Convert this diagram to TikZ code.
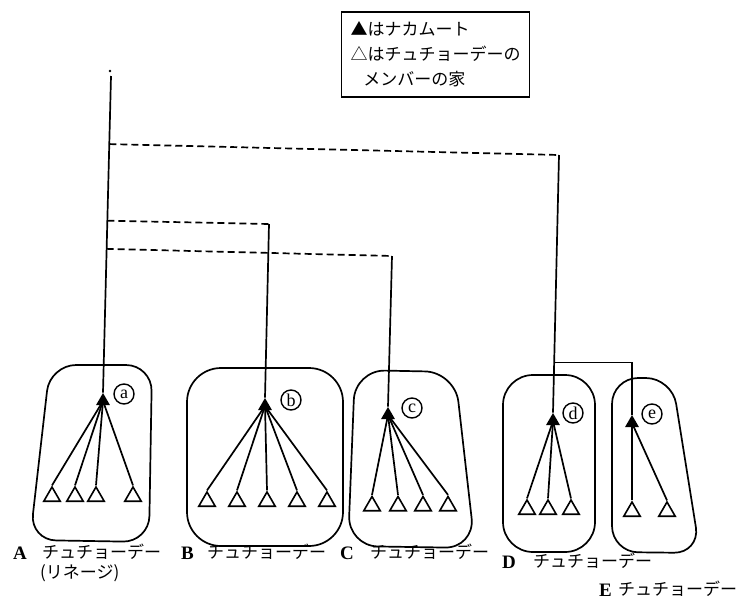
\documentclass[tikz,border=0pt]{standalone}
\usepackage{fontspec}
\setmainfont{Liberation Serif}
\newfontfamily\jp{Noto Sans CJK JP}
\usetikzlibrary{shapes.geometric,calc,positioning}

\tikzset{
  kin/.style={line width=1.7pt, rounded corners=26pt},
  head/.style={regular polygon, regular polygon sides=3, fill=black, inner sep=0pt, minimum size=16pt},
  house/.style={regular polygon, regular polygon sides=3, draw, line width=1.6pt, inner sep=0pt, minimum size=19pt},
  tag/.style={circle, draw, line width=1.4pt, inner sep=0pt, minimum size=20pt, font=\fontsize{18}{18}\selectfont},
  lbl/.style={font=\jp\fontsize{17}{20}\selectfont, inner sep=0pt, anchor=base west},
  ltr/.style={font=\fontsize{19}{20}\selectfont\bfseries, inner sep=0pt, anchor=base west},
  link/.style={line width=1.7pt},
  tie/.style={line width=1.7pt, dash pattern=on 7pt off 4pt},
}

\begin{document}
\begin{tikzpicture}[x=1pt,y=-1pt]
  \useasboundingbox (0,0) rectangle (747,603);

  % legend
  \node[draw, line width=1.7pt, align=left, inner xsep=9pt, inner ysep=10pt,
        font=\jp\fontsize{17}{25}\selectfont] (legend) at (435.5,54.5)
    {▲はナカムート\\△はチュチョーデーの\\\hspace{0.75em}メンバーの家};

  % lineage boxes
  \draw[kin] (50,365) -- (152,365) -- (149,542) -- (30,540) -- cycle;
  \draw[kin, rounded corners=34pt] (187,368) -- (343,368) -- (343,546) -- (187,546) -- cycle;
  \draw[kin, rounded corners=30pt] (355,370) -- (455,372) -- (475,548) -- (348,546) -- cycle;
  \draw[kin, rounded corners=30pt] (503,375) -- (595,375) -- (595,552) -- (503,552) -- cycle;
  \draw[kin] (612,378) -- (672,378) -- (700,553) -- (612,552) -- cycle;

  % nakamuuto and tags
  \node[head] (hA) at (103,401) {};
  \node[head] (hB) at (265,406) {};
  \node[head] (hC) at (388,415) {};
  \node[head] (hD) at (553,421) {};
  \node[head] (hE) at (632,423) {};
  \node[tag] (ta) at (124,394) {a};
  \node[tag] (tb) at (291,400) {b};
  \node[tag] (tc) at (412,408) {c};
  \node[tag] (td) at (573,413) {d};
  \node[tag] (te) at (652,414) {e};

  % member houses
  \foreach \x [count=\i] in {52,75,96,133} {
    \node[house] (mA\i) at (\x,496.5) {};
    \draw[link] (hA.center) -- (mA\i.corner 1);
  }
  \foreach \x [count=\i] in {207,237,267,297,327} {
    \node[house] (mB\i) at (\x,501.5) {};
    \draw[link] (hB.center) -- (mB\i.corner 1);
  }
  \foreach \x [count=\i] in {372,398,423,448} {
    \node[house] (mC\i) at (\x,506) {};
    \draw[link] (hC.center) -- (mC\i.corner 1);
  }
  \foreach \x [count=\i] in {527,548,571} {
    \node[house] (mD\i) at (\x,509.5) {};
    \draw[link] (hD.center) -- (mD\i.corner 1);
  }
  \foreach \x [count=\i] in {632,667} {
    \node[house] (mE\i) at (\x,511.5) {};
    \draw[link] (hE.center) -- (mE\i.corner 1);
  }

  % main line and branches
  \node[circle, fill, inner sep=1pt] (dot) at (110,71) {};
  \coordinate (top) at (111,76);
  \draw[link] (top) -- (hA.corner 1);
  \coordinate (brD) at ($(top)!0.215!(hA.corner 1)$);
  \coordinate (brB) at ($(top)!0.457!(hA.corner 1)$);
  \coordinate (brC) at ($(top)!0.546!(hA.corner 1)$);
  \coordinate (cD) at (559,155);
  \coordinate (cB) at (269,224);
  \coordinate (cC) at (392,256);
  \draw[tie] (brD) -- (cD);
  \draw[tie] (brB) -- (cB);
  \draw[tie] (brC) -- (cC);
  \draw[link] (cD) -- (hD.corner 1);
  \draw[link] (cB) -- (hB.corner 1);
  \draw[link] (cC) -- (hC.corner 1);
  \coordinate (jD) at ($(cD)!0.806!(hD.corner 1)$);
  \draw[link] (jD) -| (hE.corner 1);

  % labels
  \node[ltr] (lA) at (13,559) {A};
  \node[lbl] (nA) at (42,558) {チュチョーデー};
  \node[lbl] (nA2) at (40,578) {(リネージ)};
  \node[ltr] (lB) at (181,559) {B};
  \node[lbl] (nB) at (207,558) {チュチョーデー};
  \node[ltr] (lC) at (340,559) {C};
  \node[lbl] (nC) at (370,558) {チュチョーデー};
  \node[ltr] (lD) at (502,568) {D};
  \node[lbl] (nD) at (533,567) {チュチョーデー};
  \node[ltr] (lE) at (599,596) {E};
  \node[lbl] (nE) at (618,595) {チュチョーデー};
\end{tikzpicture}
\end{document}
